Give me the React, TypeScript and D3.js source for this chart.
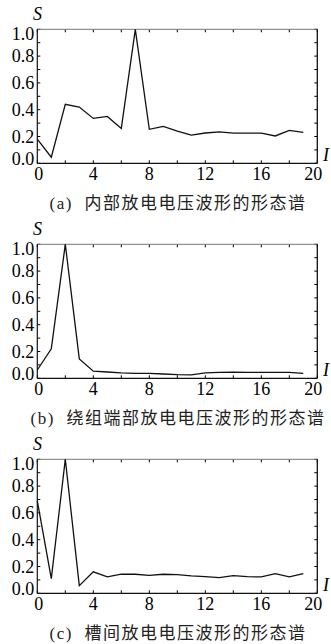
import React, { useEffect, useRef } from "react";
import * as d3 from "d3";

// harmonic order 0..19
const orders = d3.range(0, 20);

const internalS = [0.18, 0.045, 0.44, 0.42, 0.335, 0.35, 0.26, 1.0, 0.254, 0.276,
  0.24, 0.21, 0.226, 0.234, 0.225, 0.225, 0.225, 0.204, 0.246, 0.231];
const endWindingS = [0.062, 0.22, 1.0, 0.145, 0.053, 0.047, 0.04, 0.037, 0.037, 0.032,
  0.027, 0.026, 0.04, 0.044, 0.045, 0.044, 0.044, 0.044, 0.044, 0.037];
const slotS = [0.69, 0.11, 1.0, 0.057, 0.16, 0.123, 0.143, 0.142, 0.134, 0.142,
  0.14, 0.13, 0.124, 0.117, 0.132, 0.124, 0.122, 0.147, 0.122, 0.147];

const captions = [
  "(a)  内部放电电压波形的形态谱",
  "(b)  绕组端部放电电压波形的形态谱",
  "(c)  槽间放电电压波形的形态谱",
];
const seriesList = [internalS, endWindingS, slotS];

const xTickLabels = [0, 4, 8, 12, 16, 20];
const yTickLabels = [0, 0.2, 0.4, 0.6, 0.8, 1.0];

const W = 331;
const H = 644;

const App = () => {
  const svgRef = useRef<SVGSVGElement>(null);

  useEffect(() => {
    const svg = d3.select(svgRef.current);
    svg.selectAll("*").remove();

    const left = 37.3, right = 317.3;
    const panelH = 215;
    const top0 = 29.3, bottom0 = 163.3;
    const serif = "'Liberation Serif', 'DejaVu Serif', serif";

    const x = d3.scaleLinear().domain([0, 20]).range([left, right]);

    seriesList.forEach((vals, i) => {
      const off = i * panelH;
      const y = d3.scaleLinear().domain([0, 1]).range([bottom0 + off, top0 + off]);
      const g = svg.append("g");

      // inward ticks on all four sides
      const tk = 3;
      d3.range(0, 1.0001, 0.1).forEach(v => {
        g.append("line").attr("x1", left).attr("x2", left + tk)
          .attr("y1", y(v)).attr("y2", y(v)).attr("stroke", "#000");
        g.append("line").attr("x1", right).attr("x2", right - tk)
          .attr("y1", y(v)).attr("y2", y(v)).attr("stroke", "#000");
      });
      d3.range(0, 21, 2).forEach(v => {
        g.append("line").attr("x1", x(v)).attr("x2", x(v))
          .attr("y1", y(0)).attr("y2", y(0) - tk).attr("stroke", "#000");
        g.append("line").attr("x1", x(v)).attr("x2", x(v))
          .attr("y1", y(1)).attr("y2", y(1) + tk).attr("stroke", "#000");
      });

      // frame
      g.append("line").attr("x1", left).attr("x2", right).attr("y1", y(1)).attr("y2", y(1))
        .attr("stroke", "#777").attr("stroke-width", 1);
      g.append("line").attr("x1", right).attr("x2", right).attr("y1", y(1)).attr("y2", y(0))
        .attr("stroke", "#111").attr("stroke-width", 1.3);
      g.append("line").attr("x1", left).attr("x2", left).attr("y1", y(1)).attr("y2", y(0))
        .attr("stroke", "#111").attr("stroke-width", 1.2);
      g.append("line").attr("x1", left).attr("x2", right).attr("y1", y(0)).attr("y2", y(0))
        .attr("stroke", "#111").attr("stroke-width", 1.2);

      // y tick labels (end ones nudged inside the frame)
      g.selectAll(".yl").data(yTickLabels).enter().append("text")
        .attr("x", left - 3)
        .attr("y", d => {
          let c = y(d);
          if (d === 0) c -= 5;
          if (d === 1) c += 4;
          return c;
        })
        .attr("dy", "0.35em")
        .attr("text-anchor", "end")
        .style("font-family", serif).style("font-size", "18px")
        .text(d => d.toFixed(1));

      // x tick labels (end ones nudged inward)
      g.selectAll(".xl").data(xTickLabels).enter().append("text")
        .attr("x", d => x(d) + (d === 0 ? 1.5 : d === 20 ? -4 : 0))
        .attr("y", y(0) + 16.5)
        .attr("text-anchor", "middle")
        .style("font-family", serif).style("font-size", "18px")
        .text(d => String(d));

      // axis names
      g.append("text").attr("x", 33).attr("y", y(1) - 9.5)
        .style("font-family", serif).style("font-style", "italic").style("font-size", "18px")
        .text("S");
      g.append("text").attr("x", 323).attr("y", y(0) - 2)
        .style("font-family", serif).style("font-style", "italic").style("font-size", "18px")
        .text("I");

      // spectrum line
      const line = d3.line<number>().x((_, j) => x(orders[j])).y(d => y(d));
      g.append("path").datum(vals).attr("d", line)
        .attr("fill", "none").attr("stroke", "#111").attr("stroke-width", 1.3)
        .attr("stroke-linejoin", "miter");

      // caption
      g.append("text").attr("x", 178).attr("y", y(0) + 46)
        .attr("text-anchor", "middle")
        .style("font-family", "'Liberation Serif', 'Noto Sans CJK SC', serif")
        .style("font-size", "17px")
        .style("letter-spacing", "1.5px")
        .style("white-space", "pre")
        .attr("fill", "#222")
        .text(captions[i]);
    });
  }, []);

  return (
    <svg ref={svgRef} width={W} height={H}
      style={{ position: "absolute", left: 0, top: 0, background: "#fff" }} />
  );
};

export default App;
